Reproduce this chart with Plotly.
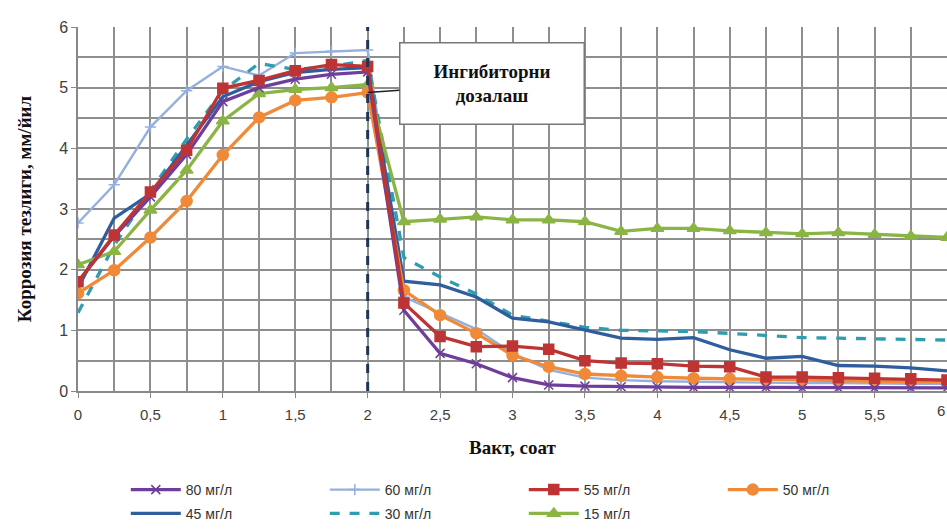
import plotly.graph_objects as go

hours = [0, 0.25, 0.5, 0.75, 1, 1.25, 1.5, 1.75, 2, 2.25, 2.5, 2.75, 3,
         3.25, 3.5, 3.75, 4, 4.25, 4.5, 4.75, 5, 5.25, 5.5, 5.75, 6]

s80 = [1.8, 2.55, 3.2, 3.9, 4.77, 5.0, 5.14, 5.22, 5.26, 1.33, 0.62, 0.45, 0.22,
       0.1, 0.08, 0.07, 0.07, 0.06, 0.06, 0.06, 0.05, 0.05, 0.05, 0.05, 0.05]
s60 = [2.77, 3.4, 4.35, 4.95, 5.35, 5.2, 5.57, 5.6, 5.62, 1.55, 1.28, 1.02, 0.62,
       0.35, 0.22, 0.18, 0.16, 0.15, 0.14, 0.14, 0.13, 0.13, 0.12, 0.12, 0.12]
s55 = [1.8, 2.57, 3.28, 3.97, 4.99, 5.12, 5.28, 5.38, 5.35, 1.45, 0.9, 0.73, 0.74,
       0.69, 0.5, 0.46, 0.45, 0.41, 0.4, 0.23, 0.23, 0.22, 0.21, 0.2, 0.18]
s50 = [1.61, 1.99, 2.53, 3.13, 3.89, 4.51, 4.79, 4.84, 4.92, 1.66, 1.25, 0.95, 0.59,
       0.4, 0.28, 0.25, 0.23, 0.21, 0.2, 0.18, 0.17, 0.16, 0.16, 0.15, 0.15]
s45 = [1.7, 2.85, 3.25, 4.05, 4.85, 5.1, 5.25, 5.3, 5.33, 1.81, 1.75, 1.55, 1.2,
       1.14, 1.0, 0.87, 0.85, 0.88, 0.68, 0.54, 0.57, 0.42, 0.41, 0.38, 0.33]
s30 = [1.29, 2.4, 3.3, 4.15, 4.95, 5.4, 5.3, 5.35, 5.45, 2.2, 1.88, 1.6, 1.25,
       1.15, 1.05, 1.0, 0.99, 0.98, 0.95, 0.91, 0.88, 0.87, 0.86, 0.85, 0.84]
s15 = [2.08, 2.3, 2.98, 3.64, 4.45, 4.9, 4.97, 5.0, 5.05, 2.79, 2.83, 2.87, 2.82,
       2.82, 2.79, 2.63, 2.68, 2.68, 2.64, 2.61, 2.59, 2.61, 2.58, 2.55, 2.53]

x_ticks = [0, 0.5, 1, 1.5, 2, 2.5, 3, 3.5, 4, 4.5, 5, 5.5]
x_labels = ["0", "0,5", "1", "1,5", "2", "2,5", "3", "3,5", "4", "4,5", "5", "5,5"]
x_last_tick = 6
x_last_label = "6"
y_ticks = [0, 1, 2, 3, 4, 5, 6]

series = [
    # name, values, color, dash, symbol, msize, legend, rank, width
    ("60 мг/л", s60, "#95B0DC", "solid", "cross-thin", 8, "legend", 2, 2.4),
    ("30 мг/л", s30, "#2E9DB0", "dash", None, 0, "legend2", 2, 3.3),
    ("45 мг/л", s45, "#2F5E9E", "solid", None, 0, "legend2", 1, 3.3),
    ("15 мг/л", s15, "#8AB545", "solid", "triangle-up", 11, "legend2", 3, 3.3),
    ("50 мг/л", s50, "#F08A38", "solid", "circle", 11, "legend", 4, 3.3),
    ("80 мг/л", s80, "#6F3E9C", "solid", "x-thin", 9, "legend", 1, 3.3),
    ("55 мг/л", s55, "#BE3434", "solid", "square", 10, "legend", 3, 3.3),
]

fig = go.Figure()
for name, vals, color, dash, sym, msize, leg, rank, lw in series:
    mode = "lines+markers" if sym else "lines"
    marker = dict(symbol=sym, size=msize, color=color,
                  line=dict(color=color, width=1.5)) if sym else None
    fig.add_trace(go.Scatter(
        x=hours, y=vals, name=name, mode=mode,
        line=dict(color=color, width=lw, dash=dash),
        marker=marker, legend=leg, legendrank=rank,
    ))

fig.add_shape(type="line", x0=2, x1=2, y0=0, y1=6, xref="x", yref="y",
              line=dict(color="#1F3556", width=3, dash="dash"))

fig.add_annotation(
    x=2, y=4.92, xref="x", yref="y",
    text="<b>Ингибиторни<br>дозалаш</b>",
    showarrow=True, arrowhead=0, arrowwidth=1.5, arrowcolor="#222",
    ax=124, ay=-9, axref="pixel", ayref="pixel",
    font=dict(family="Liberation Serif, Times New Roman, serif", size=19, color="#111"),
    bgcolor="white", bordercolor="#777", borderwidth=1.5, borderpad=4,
    width=175, height=72, align="center",
)

# last x tick label sits on the window edge in the reference
fig.add_annotation(x=x_last_tick, y=0, xref="x", yref="y", text=x_last_label,
                   showarrow=False, yshift=-19, xanchor="right", yanchor="middle",
                   font=dict(family="Liberation Sans, Arial, sans-serif", size=15, color="#404040"))

grid_col = "#8e8e8e"
fig.update_layout(
    width=947, height=530,
    margin=dict(l=78, r=0, t=27, b=139),
    paper_bgcolor="white", plot_bgcolor="white",
    separators=", ",
    font=dict(family="Liberation Sans, Arial, sans-serif", size=15, color="#404040"),
    xaxis=dict(
        range=[0, 6], tickvals=x_ticks, ticktext=x_labels,
        showgrid=True, gridcolor=grid_col, gridwidth=1.5,
        minor=dict(dtick=0.25, showgrid=True, gridcolor=grid_col, gridwidth=1.5),
        showline=True, linecolor="#888", linewidth=1.5,
        ticks="outside", ticklen=5, tickcolor="#888", ticklabelstandoff=4,
        zeroline=False,
        title=dict(text="<b>Вакт, соат</b>", standoff=19,
                   font=dict(family="Liberation Serif, Times New Roman, serif", size=19, color="#111")),
    ),
    yaxis=dict(
        range=[0, 6], tickvals=y_ticks,
        showgrid=True, gridcolor=grid_col, gridwidth=1.5,
        minor=dict(dtick=0.5, showgrid=True, gridcolor=grid_col, gridwidth=1.5),
        showline=True, linecolor="#888", linewidth=1.5,
        ticks="outside", ticklen=5, tickcolor="#888",
        tickfont=dict(size=16),
        zeroline=False,
        title=dict(text="<b>Коррозия тезлиги, мм/йил</b>", standoff=22,
                   font=dict(family="Liberation Serif, Times New Roman, serif", size=19, color="#111")),
    ),
    legend=dict(orientation="h", x=0.055, y=-0.272, xanchor="left", yanchor="middle",
                entrywidth=134, entrywidthmode="pixels", itemwidth=50,
                font=dict(size=14, color="#333"), bgcolor="rgba(0,0,0,0)", traceorder="normal"),
    legend2=dict(orientation="h", x=0.055, y=-0.3815, xanchor="left", yanchor="bottom",
                 entrywidth=134, entrywidthmode="pixels", itemwidth=50,
                 font=dict(size=14, color="#333"), bgcolor="rgba(0,0,0,0)", traceorder="normal"),
    showlegend=True,
)

fig.write_html("out.html")
